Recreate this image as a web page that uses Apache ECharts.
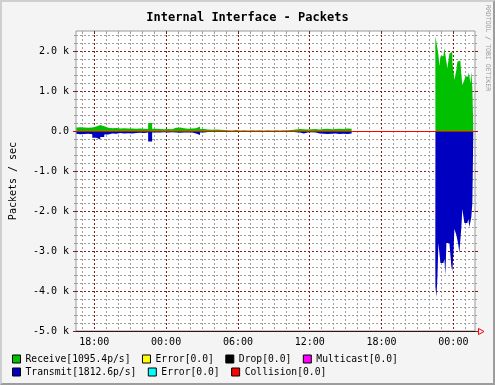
<!DOCTYPE html>
<html><head><meta charset="utf-8">
<script src="https://cdn.jsdelivr.net/npm/echarts@6/dist/echarts.min.js"></script>
<style>
html,body{margin:0;padding:0;background:#f4f4f4;}
#wrap{position:relative;width:495px;height:385px;overflow:hidden;}
#chart{width:495px;height:385px;}
#wrap::after{content:'';position:absolute;left:0;top:0;right:0;bottom:0;border-top:2px solid #cfcfcf;border-left:2px solid #cfcfcf;border-right:2px solid #9c9c9c;border-bottom:2px solid #9c9c9c;pointer-events:none;}
</style></head><body>
<div id="wrap"><div id="chart"></div></div>
<script>
const chartTitle = 'Internal Interface - Packets';
const yAxisTitle = 'Packets / sec';
const watermark = 'RRDTOOL / TOBI OETIKER';

// x window, in hours counted from midnight of the first day
const xStartHour = 16.472;
const xEndHour = 49.806;
const majorHours = [18, 24, 30, 36, 42, 48];
const yMin = -5000, yMax = 2500;
const yMajorTicks = [-5000, -4000, -3000, -2000, -1000, 0, 1000, 2000];

// Region 1 : every 20 min, day 1 16:30 -> day 2 15:30
const region1Times = ['16:30','16:50','17:10','17:30','17:50','18:10','18:30','18:50','19:10','19:30',
 '19:50','20:10','20:30','20:50','21:10','21:30','21:50','22:10','22:30','22:50',
 '23:10','23:30','23:50','00:10','00:30','00:50','01:10','01:30','01:50','02:10',
 '02:30','02:50','03:10','03:30','03:50','04:10','04:30','04:50','05:10','05:30',
 '05:50','06:10','06:30','06:50','07:10','07:30','07:50','08:10','08:30','08:50',
 '09:10','09:30','09:50','10:10','10:30','10:50','11:10','11:30','11:50','12:10',
 '12:30','12:50','13:10','13:30','13:50','14:10','14:30','14:50','15:10','15:30'];
const receiveRegion1 = [90,95,85,80,90,110,150,120,80,70,
 75,60,70,65,60,55,60,55,50,200,
 55,50,45,50,45,80,85,70,55,60,
 70,110,50,35,30,35,30,25,20,15,
 25,15,20,15,20,15,20,15,20,15,
 20,15,20,20,25,40,50,45,40,45,
 50,40,50,55,45,50,55,50,60,55];
const transmitRegion1 = [-70,-80,-75,-70,-80,-170,-210,-150,-90,-60,
 -70,-50,-60,-55,-60,-50,-45,-50,-40,-260,
 -40,-35,-30,-35,-30,-40,-45,-40,-35,-40,
 -60,-100,-40,-25,-20,-25,-20,-15,-10,-10,
 -10,-10,-10,-5,-10,-10,-10,-5,-5,-5,
 -5,-5,-10,-10,-15,-30,-40,-60,-35,-30,
 -40,-60,-70,-75,-70,-65,-75,-70,-75,-65];

// Region 2 : every 5 min, day 2 22:30 -> day 3 01:40
const region2Times = ['22:30','22:35','22:40','22:45','22:50','22:55','23:00','23:05','23:10','23:15',
 '23:20','23:25','23:30','23:35','23:40','23:45','23:50','23:55','00:00','00:05',
 '00:10','00:15','00:20','00:25','00:30','00:35','00:40','00:45','00:50','00:55',
 '01:00','01:05','01:10','01:15','01:20','01:25','01:30','01:35','01:40'];
const receiveRegion2 = [2190,2360,2400,2070,1900,1625,1860,1900,1875,1900,
 2070,2110,1730,1570,1570,1940,1900,1980,1730,1690,
 1275,1275,1525,1730,1760,1760,1730,1400,1150,1150,
 1275,1360,1320,1360,1460,1400,1190,1480,1095.4];
const transmitRegion2 = [-3250,-3900,-4150,-3650,-2800,-2850,-3300,-3350,-3300,-3250,
 -3200,-3600,-2800,-2850,-2800,-2850,-2800,-3400,-3500,-3050,
 -2450,-2500,-2600,-2550,-2850,-3050,-3000,-2400,-1950,-2000,
 -2300,-2350,-2300,-2350,-2200,-2400,-2400,-2150,-1812.6];

const legendRow1 = ['Receive', 'rxError', 'rxDrop', 'rxMulticast'];
const legendRow2 = ['Transmit', 'txError', 'txCollision'];
const legendLabels = {
  Receive: 'Receive[1095.4p/s]', rxError: 'Error[0.0]', rxDrop: 'Drop[0.0]', rxMulticast: 'Multicast[0.0]',
  Transmit: 'Transmit[1812.6p/s]', txError: 'Error[0.0]', txCollision: 'Collision[0.0]'
};
const seriesColors = {
  Receive: '#00c000', rxError: '#ffff00', rxDrop: '#000000', rxMulticast: '#ff00ff',
  Transmit: '#0000c0', txError: '#00ffff', txCollision: '#ff0000'
};

const FONT = 'DejaVu Sans Mono';

function toHours(times, startDay) {
  let day = startDay, prev = -1;
  return times.map(t => {
    const [h, m] = t.split(':').map(Number);
    let v = h + m / 60;
    if (v < prev) day++;
    prev = v;
    return v + 24 * day;
  });
}
function pairs(hours, vals) { return hours.map((h, i) => [h, vals[i]]); }

const h1 = toHours(region1Times, 0);
const h2 = toHours(region2Times, 1);
// break in the data just before the second block starts
const gapHour = h2[0] - 0.01;
const rxData = pairs(h1, receiveRegion1).concat([[gapHour, null]], pairs(h2, receiveRegion2));
const txData = pairs(h1, transmitRegion1).concat([[gapHour, null]], pairs(h2, transmitRegion2));

const minorHours = [];
for (let h = Math.ceil(xStartHour); h < xEndHour; h++) if (majorHours.indexOf(h) < 0) minorHours.push(h);
const yMinorTicks = [];
for (let v = yMin + 200; v < yMax; v += 200) if (v % 1000 !== 0) yMinorTicks.push(v);

const GRAY = '#a0a0a0', DARKRED = '#7f1f1f';

function xAx(o) {
  return Object.assign({type: 'value', min: xStartHour, max: xEndHour, axisLine: {show: false, onZero: false}, axisLabel: {show: false}, splitLine: {show: false}}, o);
}
function yAx(o) {
  return Object.assign({type: 'value', min: yMin, max: yMax, axisLine: {show: false, onZero: false}, axisLabel: {show: false}, splitLine: {show: false}}, o);
}

const areaSeries = (name, data) => ({
  name, type: 'line', data, step: 'start', symbol: 'none', showSymbol: false, connectNulls: false,
  xAxisIndex: 0, yAxisIndex: 0, color: seriesColors[name],
  lineStyle: {width: 0}, areaStyle: {color: seriesColors[name], opacity: 1}, z: 3, silent: true
});
const emptySeries = name => ({name, type: 'line', data: [], color: seriesColors[name], itemStyle: {color: seriesColors[name]}, xAxisIndex: 0, yAxisIndex: 0});

const legendCommon = {
  left: 12, itemWidth: 8, itemHeight: 8, itemGap: 11.5, icon: 'rect', padding: 0, selectedMode: false,
  itemStyle: {borderColor: '#000', borderWidth: 1},
  formatter: n => legendLabels[n],
  textStyle: {fontFamily: FONT, fontSize: 9.7, color: '#000'}
};

const rx = areaSeries('Receive', rxData);
rx.markLine = {silent: true, symbol: 'none', label: {show: false}, lineStyle: {color: '#ff0000', type: 'solid', width: 1}, data: [{yAxis: 0}], z: 10};

const option = {
  backgroundColor: '#f4f4f4',
  animation: false,
  title: {text: chartTitle, left: 'center', top: 7, textStyle: {fontFamily: FONT, fontWeight: 'bold', fontSize: 12, color: '#000'}},
  grid: {left: 75, top: 31, right: 20, bottom: 54, show: true, backgroundColor: '#ffffff', borderColor: '#999999', borderWidth: 1},
  xAxis: [
    xAx({position: 'bottom', axisTick: {show: false, customValues: minorHours},
      splitLine: {show: true, lineStyle: {color: GRAY, type: [2, 2], width: 1}}}),
    xAx({position: 'bottom', axisLine: {show: true, onZero: false, lineStyle: {color: '#3a1010', width: 1}},
      axisTick: {show: false, customValues: majorHours},
      axisLabel: {show: true, customValues: majorHours, margin: 6, fontFamily: FONT, fontSize: 10, color: '#000',
        formatter: v => String(Math.round(v) % 24).padStart(2, '0') + ':00'},
      splitLine: {show: true, lineStyle: {color: DARKRED, type: [2, 2], width: 1}}}),
    xAx({position: 'top', axisTick: {show: true, inside: true, length: 3, customValues: minorHours, lineStyle: {color: GRAY}}}),
    xAx({position: 'top', axisTick: {show: true, inside: true, length: 3, customValues: majorHours, lineStyle: {color: DARKRED}}})
  ],
  yAxis: [
    yAx({position: 'left', axisTick: {show: true, length: 2, customValues: yMinorTicks, lineStyle: {color: GRAY}},
      splitLine: {show: true, lineStyle: {color: GRAY, type: [2, 2], width: 1}}}),
    yAx({position: 'left', axisTick: {show: true, length: 3, customValues: yMajorTicks, lineStyle: {color: DARKRED}},
      axisLabel: {show: true, customValues: yMajorTicks, margin: 7, fontFamily: FONT, fontSize: 10, color: '#000',
        formatter: v => v === 0 ? '0.0' : (v / 1000).toFixed(1) + ' k'},
      splitLine: {show: true, lineStyle: {color: DARKRED, type: [2, 2], width: 1}},
      name: yAxisTitle, nameLocation: 'middle', nameRotate: 90, nameGap: 58,
      nameTextStyle: {fontFamily: FONT, fontSize: 10, color: '#000'}}),
    yAx({position: 'right', axisTick: {show: true, length: 2, customValues: yMinorTicks, lineStyle: {color: GRAY}}}),
    yAx({position: 'right', axisTick: {show: true, length: 3, customValues: yMajorTicks, lineStyle: {color: DARKRED}}})
  ],
  legend: [
    Object.assign({}, legendCommon, {top: 354, data: legendRow1}),
    Object.assign({}, legendCommon, {top: 367, data: legendRow2})
  ],
  series: [
    rx,
    areaSeries('Transmit', txData),
    emptySeries('rxError'), emptySeries('rxDrop'), emptySeries('rxMulticast'),
    emptySeries('txError'), emptySeries('txCollision')
  ],
  graphic: [
    {type: 'text', x: 491, y: 5, rotation: -Math.PI / 2, z: 100,
      style: {text: watermark, fill: '#9a9a9a', fontFamily: FONT, fontSize: 6.5, align: 'left', verticalAlign: 'top'}},
    {type: 'polyline', shape: {points: [[475, 331.5], [478.5, 331.5]]}, style: {stroke: '#3a1010', lineWidth: 1}},
    {type: 'polygon', shape: {points: [[478.5, 328.5], [478.5, 334.5], [484, 331.5]]}, style: {stroke: '#ff0000', fill: 'none', lineWidth: 1}}
  ]
};

const chart = echarts.init(document.getElementById('chart'), null, {renderer: 'canvas'});
chart.setOption(option);
</script>
</body></html>
